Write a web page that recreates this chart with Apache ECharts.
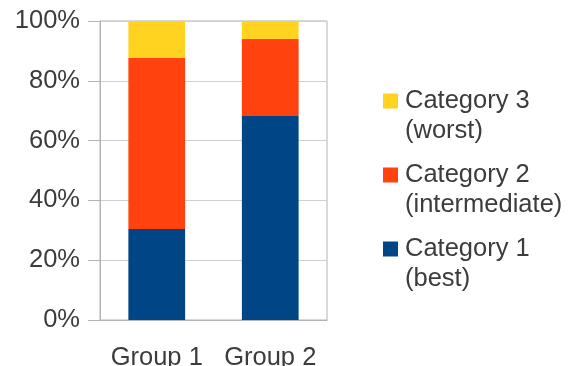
<!DOCTYPE html>
<html>
<head>
<meta charset="utf-8">
<script src="https://cdn.jsdelivr.net/npm/echarts@6/dist/echarts.min.js"></script>
<style>
  html, body { margin: 0; padding: 0; background: #fff; }
  #chart { width: 575px; height: 366px; }
</style>
</head>
<body>
<div id="chart"></div>
<script>
  // groups on the x axis
  var groups = ['Group 1', 'Group 2'];
  // share per category, in percent
  var cat1 = [30.4, 68.2];
  var cat2 = [57.2, 25.8];
  var cat3 = [12.4, 6.0];
  var seriesNames = ['Category 1\n(best)', 'Category 2\n(intermediate)', 'Category 3\n(worst)'];
  var colors = ['#004586', '#ff420e', '#ffd320'];

  var font = 'Liberation Sans, Arial, sans-serif';
  var chart = echarts.init(document.getElementById('chart'));

  chart.setOption({
    animation: false,
    grid: {
      left: 100, right: 248, top: 21, bottom: 46,
      outerBoundsMode: 'none',
      show: true, borderColor: '#b3b3b3', borderWidth: 1
    },
    legend: {
      orient: 'vertical',
      left: 383, top: 56,
      padding: 0,
      itemGap: -16,
      itemWidth: 19, itemHeight: 15,
      icon: 'path://M0,0h15v15h-15z',
      data: [seriesNames[2], seriesNames[1], seriesNames[0]],
      // blank first line keeps the square beside the first text line
      formatter: function (name) { return '\n' + name; },
      textStyle: {
        fontFamily: font, fontSize: 25.5, color: '#3c3c3c', lineHeight: 30
      }
    },
    xAxis: {
      type: 'category',
      data: groups,
      axisLine: { lineStyle: { color: '#b3b3b3' } },
      axisTick: { length: 10, lineStyle: { color: '#b3b3b3' } },
      axisLabel: { interval: 0, fontFamily: font, fontSize: 25.5, color: '#3c3c3c', margin: 25 }
    },
    yAxis: {
      type: 'value',
      min: 0, max: 100, interval: 20,
      axisLine: { show: true, lineStyle: { color: '#b3b3b3' } },
      axisTick: { show: true, length: 12, lineStyle: { color: '#b3b3b3' } },
      splitLine: { lineStyle: { color: '#d0d0d0' } },
      axisLabel: { fontFamily: font, fontSize: 25.5, color: '#3c3c3c', margin: 20, formatter: '{value}%' }
    },
    series: [
      { name: seriesNames[0], type: 'bar', stack: 'all', barWidth: '50%', itemStyle: { color: colors[0] }, data: cat1 },
      { name: seriesNames[1], type: 'bar', stack: 'all', itemStyle: { color: colors[1] }, data: cat2 },
      { name: seriesNames[2], type: 'bar', stack: 'all', itemStyle: { color: colors[2] }, data: cat3 }
    ]
  });
</script>
</body>
</html>
